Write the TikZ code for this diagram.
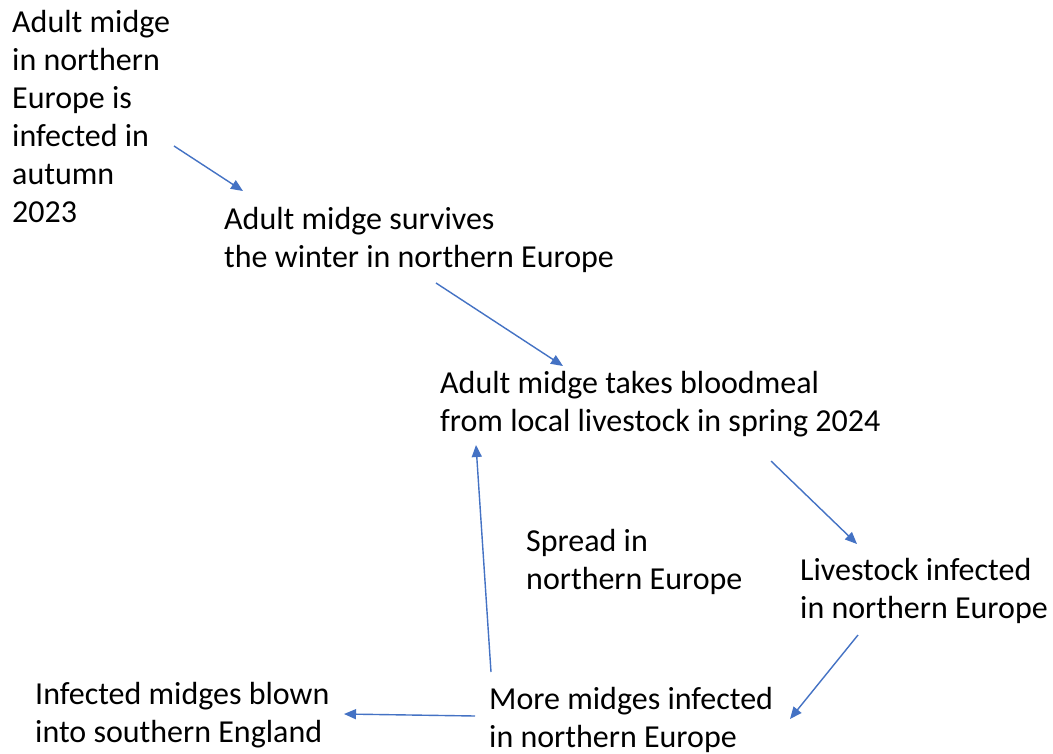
\documentclass[tikz,border=0pt]{standalone}
\usepackage{fontspec}
\setmainfont{Carlito}
\usetikzlibrary{arrows.meta}
\definecolor{arrowblue}{HTML}{4472C4}
\begin{document}
\begin{tikzpicture}[x=1pt,y=-1pt,
  lbl/.style={anchor=base west,align=left,inner sep=0pt,font=\fontsize{32}{38}\selectfont},
  conn/.style={draw=arrowblue,line width=1.4pt,-{Triangle[length=12pt,width=10pt]}}]
\useasboundingbox[fill=white] (0,0) rectangle (1053,753);
\node[lbl] (n1) at (12,222) {Adult midge\\in northern\\Europe is\\infected in\\autumn\\2023};
\node[lbl] (n2) at (224,267) {Adult midge survives\\the winter in northern Europe};
\node[lbl] (n3) at (440,431) {Adult midge takes bloodmeal\\from local livestock in spring 2024};
\node[lbl] (n4) at (526,589) {Spread in\\northern Europe};
\node[lbl] (n5) at (800,618) {Livestock infected\\in northern Europe};
\node[lbl] (n6) at (35,742) {Infected midges blown\\into southern England};
\node[lbl] (n7) at (489,747) {More midges infected\\in northern Europe};
\coordinate (a1s) at (174,146); \coordinate (a1e) at (243,191);
\coordinate (a2s) at (436,283); \coordinate (a2e) at (563,366);
\coordinate (a3s) at (771,461); \coordinate (a3e) at (857,544);
\coordinate (a4s) at (858,635); \coordinate (a4e) at (790,719);
\coordinate (a5s) at (491,672); \coordinate (a5e) at (476,445);
\coordinate (a6s) at (475,716); \coordinate (a6e) at (344,714);
\draw[conn] (a1s) -- (a1e);
\draw[conn] (a2s) -- (a2e);
\draw[conn] (a3s) -- (a3e);
\draw[conn] (a4s) -- (a4e);
\draw[conn] (a5s) -- (a5e);
\draw[conn] (a6s) -- (a6e);
\end{tikzpicture}
\end{document}
